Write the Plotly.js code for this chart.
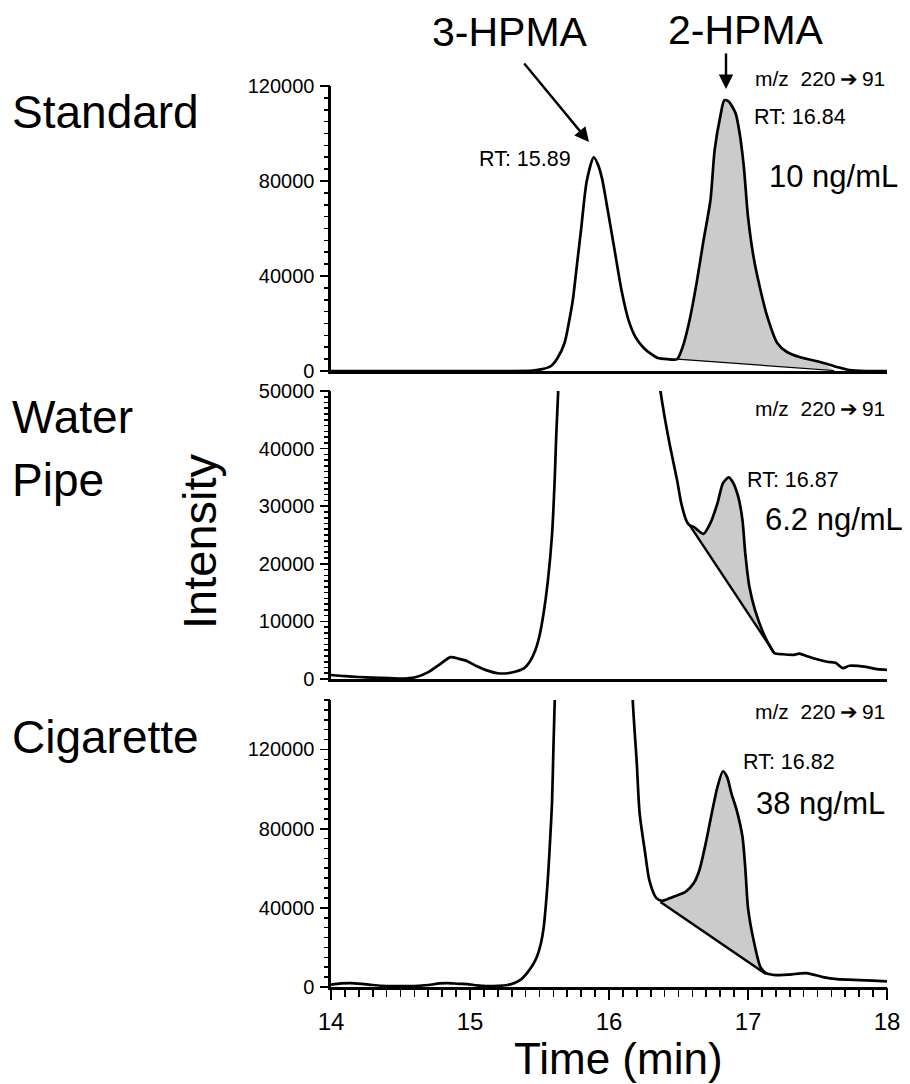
<!DOCTYPE html>
<html>
<head>
<meta charset="utf-8">
<script src="https://cdn.plot.ly/plotly-3.0.1.min.js"></script>
<style>html,body{margin:0;padding:0;background:#fff;} #chart{width:910px;height:1084px;}</style>
</head>
<body>
<div id="chart"></div>
<script>
// ---------- Data ----------
// Standard (10 ng/mL)
const time_std = [14.0,14.5,15.0,15.3,15.45,15.52,15.58,15.63,15.68,15.71,15.74,15.77,15.80,15.84,15.89,15.92,15.95,15.99,16.04,16.09,16.14,16.19,16.25,16.30,16.35,16.42,16.49,16.53,16.58,16.63,16.68,16.73,16.76,16.80,16.83,16.86,16.91,16.94,16.97,17.00,17.04,17.09,17.14,17.21,17.28,17.37,17.52,17.64,17.73,17.85,18.0];
const int_std  = [0,0,0,0,200,800,2000,5500,11800,20000,30000,45000,60000,80000,90000,87000,81000,68000,51000,34000,21500,14300,9700,7300,5500,5000,5000,10100,21500,37000,55000,72000,93000,107000,114000,113500,108600,100000,86000,65000,48000,34000,22700,11800,8000,5900,3800,1700,400,0,0];
const base_std_x = [16.49,17.62];
const base_std_y = [5000,200];

// Water pipe (6.2 ng/mL) -- 3-HPMA peak runs off scale
const time_wp = [14.0,14.1,14.2,14.3,14.42,14.55,14.62,14.7,14.78,14.86,14.92,14.98,15.05,15.12,15.2,15.27,15.33,15.39,15.43,15.47,15.5,15.53,15.56,15.59,15.61,15.62,15.635,15.7,15.9,16.1,16.3,16.37,16.40,16.44,16.49,16.52,16.56,16.58,16.61,16.64,16.68,16.73,16.78,16.82,16.86,16.89,16.93,16.96,16.98,17.01,17.05,17.11,17.16,17.19,17.25,17.33,17.37,17.42,17.47,17.57,17.63,17.68,17.73,17.85,17.93,18.0];
const int_wp  = [700,500,350,250,150,100,400,1200,2500,3800,3500,3100,2200,1500,1000,1000,1300,1900,3000,5000,7500,11500,17000,25000,35000,42000,50500,120000,300000,150000,62000,50000,45500,40300,34500,30500,27300,26700,26400,25800,25200,27100,30500,34000,35000,34200,31600,27600,21900,16000,12000,8000,5600,4500,4300,4200,4400,4000,3600,3000,2800,1900,2300,2100,1700,1600];
const base_wp_x = [16.58,17.19];
const base_wp_y = [26700,4500];

// Cigarette (38 ng/mL) -- 3-HPMA peak runs off scale
const time_cig = [14.0,14.07,14.14,14.22,14.30,14.40,14.5,14.6,14.7,14.78,14.84,14.92,14.98,15.05,15.12,15.2,15.27,15.32,15.37,15.41,15.45,15.48,15.51,15.53,15.55,15.565,15.58,15.59,15.60,15.61,15.75,15.95,16.10,16.17,16.20,16.22,16.26,16.29,16.34,16.38,16.46,16.55,16.61,16.65,16.70,16.74,16.78,16.82,16.85,16.88,16.92,16.96,16.98,17.00,17.04,17.09,17.13,17.20,17.30,17.42,17.54,17.64,17.80,17.90,18.0];
const int_cig  = [1200,1800,2000,1600,1000,500,400,500,1000,1800,2000,1600,1500,800,500,600,1000,2000,4000,7000,11000,15000,22000,30000,45000,60000,79000,93000,120000,145000,400000,600000,300000,146000,113000,88000,67700,54000,45000,43500,45500,48000,52500,59000,74000,88000,101000,109000,106000,98000,89000,76000,60600,40000,23700,10000,7000,6000,6300,7000,5000,4000,3500,3200,2800];
const base_cig_x = [16.37,17.13];
const base_cig_y = [43000,6500];

// Axis ticks / labels
const xTicks = [14,15,16,17,18];
const xTickLabels = ['14','15','16','17','18'];
const yTicks_std = [0,40000,80000,120000];
const yTicks_wp  = [0,10000,20000,30000,40000,50000];
const yTicks_cig = [0,40000,80000,120000];
const xMinorStep = 0.1;
const yMinorStep_std = 5000, yMinorStep_wp = 1000, yMinorStep_cig = 5000;

// ---------- Helpers ----------
const W = 910, H = 1084;
const px = x => x / W;
const py = y => 1 - y / H;
const FONT = '"Liberation Sans", Arial, Helvetica, sans-serif';
const SMOOTH = 0.7;

function steps(lo, hi, step) {
  const out = [];
  const n = Math.round((hi - lo) / step);
  for (let i = 0; i <= n; i++) out.push(+(lo + i * step).toFixed(6));
  return out;
}

function segment(tx, ty, bx) {
  const xs = [], ys = [];
  for (let i = 0; i < tx.length; i++) {
    if (tx[i] >= bx[0] && tx[i] <= bx[1]) { xs.push(tx[i]); ys.push(ty[i]); }
  }
  return {x: xs, y: ys};
}

function panelTraces(tx, ty, bx, by, xa, ya, baseWidth) {
  const seg = segment(tx, ty, bx);
  return [
    {x: bx, y: by, xaxis: xa, yaxis: ya, type: 'scatter', mode: 'lines',
     line: {width: 0, color: 'rgba(0,0,0,0)'}, hoverinfo: 'skip'},
    {x: [bx[0]].concat(seg.x, [bx[1]]), y: [by[0]].concat(seg.y, [by[1]]), xaxis: xa, yaxis: ya,
     type: 'scatter', mode: 'lines', fill: 'tonexty', fillcolor: '#cbcbcb',
     line: {width: 0, color: 'rgba(0,0,0,0)', shape: 'spline', smoothing: SMOOTH}, hoverinfo: 'skip'},
    {x: bx, y: by, xaxis: xa, yaxis: ya, type: 'scatter', mode: 'lines',
     line: {color: '#000', width: baseWidth}, hoverinfo: 'skip'},
    {x: tx, y: ty, xaxis: xa, yaxis: ya, type: 'scatter', mode: 'lines',
     line: {color: '#000', width: 2.7, shape: 'spline', smoothing: SMOOTH}}
  ];
}

const data = [].concat(
  panelTraces(time_std, int_std, base_std_x, base_std_y, 'x', 'y', 1.2),
  panelTraces(time_wp, int_wp, base_wp_x, base_wp_y, 'x2', 'y2', 2.4),
  panelTraces(time_cig, int_cig, base_cig_x, base_cig_y, 'x3', 'y3', 2.4),
  // empty traces that register the tick overlay axes
  [{x: [], y: [], xaxis: 'x', yaxis: 'y4', type: 'scatter', mode: 'lines', hoverinfo: 'skip'},
   {x: [], y: [], xaxis: 'x2', yaxis: 'y5', type: 'scatter', mode: 'lines', hoverinfo: 'skip'},
   {x: [], y: [], xaxis: 'x3', yaxis: 'y6', type: 'scatter', mode: 'lines', hoverinfo: 'skip'},
   {x: [], y: [], xaxis: 'x4', yaxis: 'y3', type: 'scatter', mode: 'lines', hoverinfo: 'skip'}]
);

const xDomain = [px(331), px(887)];
const lineW = 2.6;

function yAxis(range, ticks, dom) {
  return {
    domain: dom, range: range, tickvals: ticks, tickformat: 'd',
    showline: true, linewidth: lineW, linecolor: '#000', mirror: false,
    ticks: 'outside', ticklen: 8, tickwidth: 1.7, tickcolor: '#000',
    showgrid: false, zeroline: false, fixedrange: true,
    tickfont: {family: FONT, size: 20, color: '#000'}, ticklabelstandoff: 2
  };
}
function yMinorAxis(over, anchor, range, step) {
  return {
    overlaying: over, anchor: anchor, side: 'left', range: range,
    tickvals: steps(range[0], range[1], step), showticklabels: false,
    ticks: 'outside', ticklen: 6, tickwidth: 1.6, tickcolor: '#000',
    showline: false, showgrid: false, zeroline: false, fixedrange: true
  };
}
function xAxisPlain(anchor) {
  return {domain: xDomain, range: [14, 18], anchor: anchor, showline: true, linewidth: lineW,
          linecolor: '#000', ticks: '', showticklabels: false, showgrid: false, zeroline: false};
}

// bottom axis: every 0.1 min tick, labels only on whole minutes
const xAllTicks = steps(14, 18, xMinorStep);
const xAllText = xAllTicks.map(v => { const k = xTicks.indexOf(v); return k >= 0 ? xTickLabels[k] : ''; });

const layout = {
  width: W, height: H,
  margin: {l: 0, r: 0, t: 0, b: 0, pad: 0},
  paper_bgcolor: '#fff', plot_bgcolor: 'rgba(0,0,0,0)',
  showlegend: false,
  font: {family: FONT, color: '#000'},
  xaxis: xAxisPlain('y'),
  xaxis2: xAxisPlain('y2'),
  xaxis3: {
    domain: xDomain, range: [14, 18], anchor: 'y3', tickvals: xAllTicks, ticktext: xAllText,
    showline: true, linewidth: lineW, linecolor: '#000',
    ticks: 'outside', ticklen: 7, tickwidth: 1.6, tickcolor: '#000',
    showgrid: false, zeroline: false, ticklabelstandoff: 5,
    tickfont: {family: FONT, size: 24, color: '#000'}
  },
  xaxis4: {
    overlaying: 'x3', anchor: 'y3', side: 'bottom', range: [14, 18], domain: xDomain,
    tickvals: xTicks, showticklabels: false,
    ticks: 'outside', ticklen: 12, tickwidth: 1.7, tickcolor: '#000',
    showline: false, showgrid: false, zeroline: false
  },
  yaxis:  yAxis([0, 120000], yTicks_std, [py(371), py(86)]),
  yaxis2: yAxis([0, 50000], yTicks_wp, [py(679), py(391)]),
  yaxis3: yAxis([0, 145000], yTicks_cig, [py(987), py(700)]),
  yaxis4: yMinorAxis('y', 'x', [0, 120000], yMinorStep_std),
  yaxis5: yMinorAxis('y2', 'x2', [0, 50000], yMinorStep_wp),
  yaxis6: yMinorAxis('y3', 'x3', [0, 145000], yMinorStep_cig),
  annotations: []
};

function txt(text, x, y, size, xanchor, extra) {
  return Object.assign({xref: 'paper', yref: 'paper', x: px(x), y: py(y), text: text,
    showarrow: false, xanchor: xanchor || 'left', yanchor: 'middle',
    font: {family: FONT, size: size, color: '#000'}}, extra || {});
}
const A = layout.annotations;
A.push(txt('Standard', 10, 112, 46));
A.push(txt('Water', 10, 417, 46));
A.push(txt('Pipe', 10, 480, 46));
A.push(txt('Cigarette', 10, 737, 46));
A.push(txt('Intensity', 199, 541, 47, 'center', {textangle: -90}));
A.push(txt('Time (min)', 618, 1058, 44, 'center'));
A.push(txt('3-HPMA', 510, 32, 41, 'center'));
A.push(txt('2-HPMA', 746, 30, 41, 'center'));
A.push({xref: 'paper', yref: 'paper', x: px(589), y: py(142), text: '', showarrow: true,
        ax: -66, ay: -80, axref: 'pixel', ayref: 'pixel', arrowhead: 2, arrowsize: 1.2, arrowwidth: 2.4, arrowcolor: '#000'});
A.push({xref: 'paper', yref: 'paper', x: px(726), y: py(89), text: '', showarrow: true,
        ax: 0, ay: -37, axref: 'pixel', ayref: 'pixel', arrowhead: 2, arrowsize: 1.2, arrowwidth: 2.4, arrowcolor: '#000'});
const mz = 'm/z  220\u2009\u2794\u200991';
A.push(txt(mz, 753, 78, 21));
A.push(txt(mz, 753, 408, 21));
A.push(txt(mz, 753, 711, 21));
A.push(txt('RT: 15.89', 477, 159, 21.5));
A.push(txt('RT: 16.84', 752, 117, 21.5));
A.push(txt('RT: 16.87', 745, 480, 21.5));
A.push(txt('RT: 16.82', 741, 762, 21.5));
A.push(txt('10 ng/mL', 767, 177, 31));
A.push(txt('6.2 ng/mL', 763, 520, 31));
A.push(txt('38 ng/mL', 754, 804, 31));

Plotly.newPlot('chart', data, layout, {displayModeBar: false, staticPlot: true});
</script>
</body>
</html>
